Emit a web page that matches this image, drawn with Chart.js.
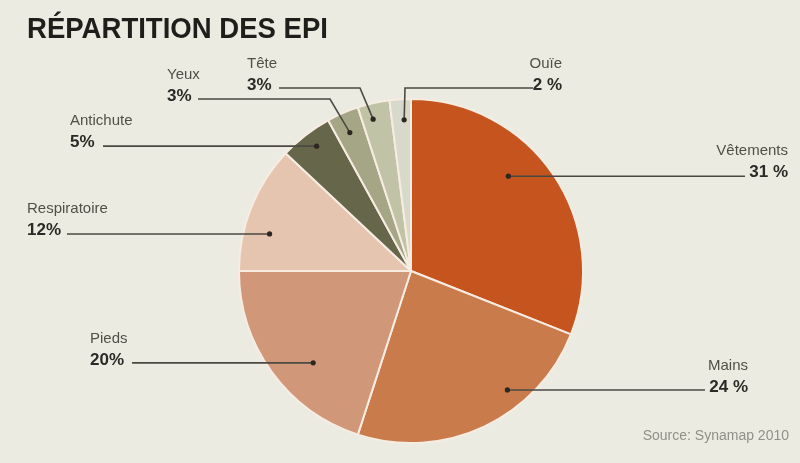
<!DOCTYPE html>
<html>
<head>
<meta charset="utf-8">
<script src="https://cdn.jsdelivr.net/npm/chart.js@4/dist/chart.umd.min.js"></script>
<style>
  html, body { margin: 0; padding: 0; background: #ECEBE1; }
  #wrap { width: 800px; height: 463px; position: relative; }
</style>
</head>
<body>
<div id="wrap"><canvas id="c" width="800" height="463"></canvas></div>
<script>
// ---- data ----
const categories = ['Vêtements', 'Mains', 'Pieds', 'Respiratoire', 'Antichute', 'Yeux', 'Tête', 'Ouïe'];
const shares = [31, 24, 20, 12, 5, 3, 3, 2];
const percentLabels = ['31 %', '24 %', '20%', '12%', '5%', '3%', '3%', '2 %'];
const sliceColors = ['#C5541F', '#C97B4B', '#D09878', '#E5C4B0', '#66664A', '#A4A686', '#C0C3A5', '#D7DACB'];
const titleText = 'RÉPARTITION DES EPI';
const sourceText = 'Source: Synamap 2010';

// ---- label layout (annotation placement only) ----
// t: position across slice angle, rf: fraction of radius for the dot
// x: text anchor, align, y: baseline of percent line, lx: line start x, ex: elbow x (optional)
const labelLayout = [
  { t: 0.41, rf: 0.79, x: 788, align: 'right', y: 177, lineY: 174, lx: 745 },
  { t: 0.34, rf: 0.89, x: 748, align: 'right', y: 392, lineY: 389, lx: 705 },
  { t: 0.40, rf: 0.78, x: 90,  align: 'left',  y: 365, lineY: 363, lx: 132 },
  { t: 0.34, rf: 0.85, x: 27,  align: 'left',  y: 235, lineY: 233, lx: 67 },
  { t: 0.54, rf: 0.91, x: 70,  align: 'left',  y: 147, lineY: 146, lx: 103 },
  { t: 0.46, rf: 0.88, x: 167, align: 'left',  y: 101, lineY: 99,  lx: 198, ex: 330 },
  { t: 0.37, rf: 0.91, x: 247, align: 'left',  y: 90,  lineY: 88,  lx: 279, ex: 360 },
  { t: 0.64, rf: 0.88, x: 562, align: 'right', y: 90,  lineY: 88,  lx: 533, ex: 405 }
];

const annotations = {
  id: 'annotations',
  afterDraw(chart) {
    const ctx = chart.ctx;
    const meta = chart.getDatasetMeta(0);
    ctx.save();
    // title
    ctx.fillStyle = '#1E1E1A';
    ctx.font = 'bold 29px "Liberation Sans", Arial, sans-serif';
    ctx.textAlign = 'left';
    ctx.textBaseline = 'alphabetic';
    ctx.fillText(titleText, 27, 38, 301);

    meta.data.forEach((arc, i) => {
      const L = labelLayout[i];
      const p = arc.getProps(['x', 'y', 'startAngle', 'endAngle', 'outerRadius'], true);
      const a = p.startAngle + (p.endAngle - p.startAngle) * L.t;
      const r = p.outerRadius * L.rf;
      const dx = p.x + Math.cos(a) * r;
      const dy = p.y + Math.sin(a) * r;
      const ly = (L.ex === undefined) ? dy : L.lineY;

      // leader line
      ctx.strokeStyle = '#4A4A42';
      ctx.lineWidth = 1.6;
      ctx.beginPath();
      ctx.moveTo(L.lx, ly);
      if (L.ex !== undefined) ctx.lineTo(L.ex, ly);
      ctx.lineTo(dx, dy);
      ctx.stroke();
      ctx.fillStyle = '#2E2620';
      ctx.beginPath();
      ctx.arc(dx, dy, 2.6, 0, Math.PI * 2);
      ctx.fill();

      // texts
      ctx.textAlign = L.align;
      ctx.fillStyle = '#505048';
      ctx.font = '15px "Liberation Sans Narrow", "Liberation Sans", Arial, sans-serif';
      ctx.fillText(categories[i], L.x, L.y - 22);
      ctx.fillStyle = '#2A2A26';
      ctx.font = 'bold 17px "Liberation Sans", Arial, sans-serif';
      ctx.fillText(percentLabels[i], L.x, L.y);
    });

    // source
    ctx.textAlign = 'right';
    ctx.fillStyle = '#909088';
    ctx.font = '14px "Liberation Sans", Arial, sans-serif';
    ctx.fillText(sourceText, 789, 440);
    ctx.restore();
  }
};

new Chart(document.getElementById('c'), {
  type: 'pie',
  data: {
    labels: categories,
    datasets: [{
      data: shares,
      backgroundColor: sliceColors,
      borderColor: '#F7ECE2',
      borderWidth: 2
    }]
  },
  options: {
    responsive: false,
    animation: false,
    radius: 172,
    layout: { padding: { left: 239, right: 217, top: 99, bottom: 20 } },
    plugins: {
      legend: { display: false },
      tooltip: { enabled: false },
      title: { display: false }
    }
  },
  plugins: [annotations]
});
</script>
</body>
</html>
